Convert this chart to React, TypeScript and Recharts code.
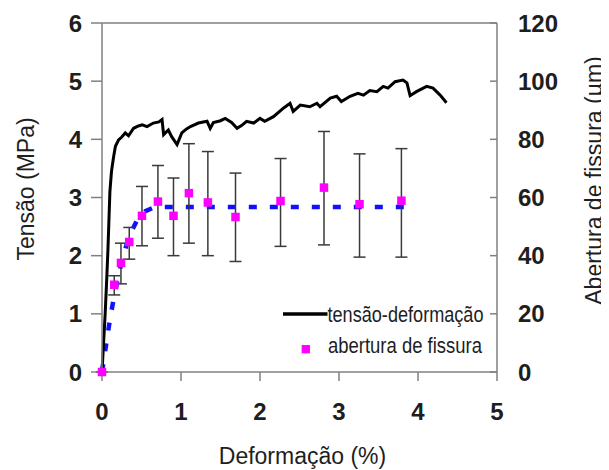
import React from 'react';
import { ComposedChart, Line, Scatter, XAxis, YAxis, ErrorBar, ReferenceLine, Legend } from 'recharts';

// Stress-strain curve (Deformação %, Tensão MPa)
const strainX = [0, 0.02, 0.04, 0.06, 0.075, 0.09, 0.1, 0.12, 0.147, 0.17, 0.21, 0.25, 0.295, 0.336, 0.4, 0.46, 0.51, 0.57, 0.65, 0.72, 0.76, 0.78, 0.84, 0.88, 0.95, 1.01, 1.07, 1.12, 1.22, 1.33, 1.37, 1.41, 1.5, 1.56, 1.64, 1.71, 1.77, 1.83, 1.92, 2.0, 2.06, 2.17, 2.3, 2.38, 2.42, 2.51, 2.63, 2.72, 2.76, 2.89, 2.97, 3.03, 3.14, 3.24, 3.31, 3.39, 3.48, 3.56, 3.62, 3.71, 3.81, 3.86, 3.9, 3.98, 4.11, 4.19, 4.28, 4.36];
const stressY = [0, 0.5, 1.0, 1.6, 2.1, 2.7, 3.1, 3.45, 3.7, 3.88, 3.99, 4.04, 4.11, 4.06, 4.19, 4.23, 4.25, 4.22, 4.28, 4.3, 4.34, 4.08, 4.16, 4.05, 3.91, 4.11, 4.18, 4.22, 4.28, 4.31, 4.19, 4.29, 4.32, 4.36, 4.29, 4.19, 4.24, 4.31, 4.28, 4.36, 4.31, 4.39, 4.54, 4.62, 4.48, 4.59, 4.56, 4.62, 4.56, 4.71, 4.74, 4.65, 4.74, 4.79, 4.76, 4.84, 4.82, 4.91, 4.88, 4.99, 5.02, 4.97, 4.75, 4.82, 4.91, 4.88, 4.76, 4.63];

// Crack opening (Abertura de fissura, µm)
const crackX = [0, 0.155, 0.24, 0.345, 0.506, 0.708, 0.905, 1.1, 1.34, 1.69, 2.26, 2.81, 3.26, 3.79];
const crackMean = [0, 30.0, 37.5, 44.7, 53.7, 58.6, 53.7, 61.5, 58.3, 53.3, 58.8, 63.4, 57.7, 58.9];
const crackTop = [0, 33.1, 44.3, 49.7, 63.8, 71.0, 66.7, 78.5, 75.8, 68.4, 73.4, 82.7, 75.0, 76.8];
const crackBottom = [0, 26.5, 30.3, 38.8, 43.4, 46.0, 40.0, 44.3, 40.0, 38.0, 43.2, 43.7, 39.5, 39.5];

// Fitted crack opening (blue dashed)
const fitX = [0, 0.05, 0.1, 0.16, 0.25, 0.34, 0.45, 0.55, 0.65, 0.75, 3.87];
const fitY = [0, 9, 18, 27, 38, 46.5, 52.5, 55.3, 56.5, 56.7, 56.7];

const strainTicks = [0, 1, 2, 3, 4, 5];
const stressTicks = [0, 1, 2, 3, 4, 5, 6];
const crackTicks = [0, 20, 40, 60, 80, 100, 120];

const stressData = strainX.map((x, i) => ({ x, y: stressY[i] }));
const crackData = crackX.map((x, i) => ({
  x,
  y: crackMean[i],
  err: [crackMean[i] - crackBottom[i], crackTop[i] - crackMean[i]],
}));
const fitData = fitX.map((x, i) => ({ x, y: fitY[i] }));

const AXIS = '#808080';
const FONT = '"Liberation Sans", Arial, sans-serif';
const tickStyle = { fontFamily: FONT, fontSize: 24, fontWeight: 700, fill: '#1e1e1e' };
const titleStyle = { fontFamily: FONT, fontSize: 23, fill: '#1e1e1e' };

const RightTick = (p: any) => {
  const axisX = p.x - 21;
  return (
    <g>
      <line x1={axisX - 7} y1={p.y} x2={axisX} y2={p.y} stroke={AXIS} strokeWidth={1.5} />
      <text x={p.x} y={p.y} dy="0.36em" textAnchor="start" style={tickStyle}>
        {p.payload.value}
      </text>
    </g>
  );
};

const Square = (p: any) => {
  const s = 8.5;
  if (p.cx == null || p.cy == null) return null;
  return <rect x={p.cx - s / 2} y={p.cy - s / 2} width={s} height={s} fill="#ff00ff" />;
};

const LegendBox = () => (
  <svg width={601} height={462} style={{ position: 'absolute', left: 0, top: 0, overflow: 'visible', pointerEvents: 'none' }}>
    <line x1={275} y1={306} x2={319.5} y2={306} stroke="#000" strokeWidth={3.5} />
    <text x={319.5} y={313.7} textLength={156} lengthAdjust="spacingAndGlyphs"
      style={{ fontFamily: '"Liberation Sans Narrow", "Liberation Sans", Arial', fontSize: 22, fill: '#1e1e1e' }}>
      tensão-deformação
    </text>
    <rect x={297.8 - 4.15} y={341.2 - 4.15} width={8.3} height={8.3} fill="#ff00ff" />
    <text x={320} y={345.3} textLength={154} lengthAdjust="spacingAndGlyphs"
      style={{ fontFamily: '"Liberation Sans Narrow", "Liberation Sans", Arial', fontSize: 22, fill: '#1e1e1e' }}>
      abertura de fissura
    </text>
  </svg>
);

export default function App() {
  return (
    <ComposedChart width={601} height={462} margin={{ top: 15, right: 0, bottom: 0, left: 0 }}>
      <XAxis
        dataKey="x"
        type="number"
        domain={[0, 5]}
        ticks={strainTicks}
        height={98}
        tickSize={9}
        tickMargin={22}
        axisLine={{ stroke: AXIS, strokeWidth: 1.5 }}
        tickLine={{ stroke: AXIS, strokeWidth: 1.5 }}
        tick={tickStyle}
        label={{
          content: () => (
            <text x={294.5} y={456} textAnchor="middle" style={titleStyle}>
              Deformação (%)
            </text>
          ),
        }}
      />
      <YAxis
        yAxisId="left"
        type="number"
        domain={[0, 6]}
        ticks={stressTicks}
        width={94}
        tickSize={11}
        tickMargin={9}
        axisLine={{ stroke: AXIS, strokeWidth: 1.5 }}
        tickLine={{ stroke: AXIS, strokeWidth: 1.5 }}
        tick={tickStyle}
        label={{
          content: () => (
            <text x={18} y={181} transform="rotate(-90 18 181)" textAnchor="middle" dominantBaseline="central" style={titleStyle}>
              Tensão (MPa)
            </text>
          ),
        }}
      />
      <YAxis
        yAxisId="right"
        orientation="right"
        type="number"
        domain={[0, 120]}
        ticks={crackTicks}
        width={112}
        tickSize={0}
        tickMargin={21}
        axisLine={{ stroke: AXIS, strokeWidth: 1.5 }}
        tickLine={false}
        tick={<RightTick />}
        label={{
          content: () => (
            <text x={586} y={172.5} transform="rotate(-90 586 172.5)" textAnchor="middle" dominantBaseline="central" style={titleStyle}>
              Abertura de fissura (µm)
            </text>
          ),
        }}
      />
      <ReferenceLine yAxisId="left" y={6} stroke={AXIS} strokeWidth={1.5} />
      <Line
        yAxisId="right"
        data={fitData}
        dataKey="y"
        type="linear"
        stroke="#1010ff"
        strokeWidth={4.5}
        strokeDasharray="8 13"
        dot={false}
        activeDot={false}
        isAnimationActive={false}
      />
      <Line
        yAxisId="left"
        data={stressData}
        dataKey="y"
        type="linear"
        stroke="#000"
        strokeWidth={3}
        dot={false}
        activeDot={false}
        isAnimationActive={false}
      />
      <Scatter yAxisId="right" data={crackData} dataKey="y" shape={<Square />} isAnimationActive={false}>
        <ErrorBar dataKey="err" direction="y" width={6} stroke="#3a3a3a" strokeWidth={1.5} isAnimationActive={false} />
      </Scatter>
      <Legend
        layout="vertical"
        verticalAlign="middle"
        align="center"
        wrapperStyle={{ position: 'absolute', left: 0, top: 0, width: 601, height: 462, pointerEvents: 'none' }}
        content={() => <LegendBox />}
      />
    </ComposedChart>
  );
}
